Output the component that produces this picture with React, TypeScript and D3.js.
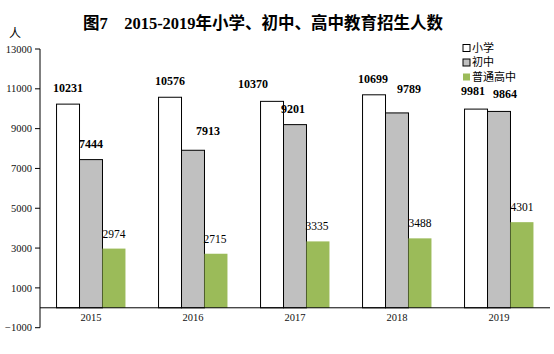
import React from "react";
import * as d3 from "d3";

// 年份 / 系列 / 数值（万人）
const years = ["2015", "2016", "2017", "2018", "2019"];
const seriesNames = ["小学", "初中", "普通高中"];
const primary = [10231, 10576, 10370, 10699, 9981];
const junior = [7444, 7913, 9201, 9789, 9864];
const senior = [2974, 2715, 3335, 3488, 4301];
const yTicks = [-1000, 1000, 3000, 5000, 7000, 9000, 11000, 13000];

// 数据标签的手动微调（像原图那样错开）
const labelDx = [
  [0, 0, -19, -1, -3],
  [0, 15, -2, 12, 6],
  [0, -1, -1, 0, 0],
];
const labelDy = [
  [0, 0, 1, 0, 2],
  [0, 3, 0, 8, 1],
  [0, 0, 0, 0, 0],
];

const W = 554;
const H = 354;
const fills = ["#FFFFFF", "#C0C0C0", "#9BBB59"];
const strokes = ["#000", "#000", "none"];
const serif = "'Liberation Serif', 'Times New Roman', 'Noto Sans CJK SC', serif";
const cjk = "'Noto Sans CJK SC', 'Liberation Serif', sans-serif";

export default function App() {
  const values = [primary, junior, senior];

  const y = d3.scaleLinear().domain([-1000, 13000]).range([327.7, 49]);
  const x0 = d3.scaleBand<string>().domain(years).range([40, 550]).padding(0);
  const x1 = d3
    .scaleBand<string>()
    .domain(seriesNames)
    .range([0, x0.bandwidth()])
    .paddingInner(0)
    .paddingOuter(0.72);

  return (
    <svg
      width={W}
      height={H}
      style={{ position: "absolute", left: 0, top: 0, background: "#fff" }}
    >
      {/* 标题 */}
      <text
        x={263}
        y={29}
        textAnchor="middle"
        fontFamily={serif}
        fontWeight="bold"
        fontSize={16.5}
      >
        图7　2015-2019年小学、初中、高中教育招生人数
      </text>
      <text x={15} y={38} textAnchor="middle" fontFamily={cjk} fontSize={12}>
        人
      </text>

      {/* y 轴 */}
      <line x1={40} x2={40} y1={y(13000)} y2={y(-1000)} stroke="#000" />
      {yTicks.map((t) => (
        <g key={t}>
          <line x1={35} x2={40} y1={y(t)} y2={y(t)} stroke="#000" />
          <text
            x={32}
            y={y(t)}
            dy="0.35em"
            textAnchor="end"
            fontFamily={serif}
            fontSize={10.5}
            fill="#111"
          >
            {t < 0 ? "\u2212" + Math.abs(t) : t}
          </text>
        </g>
      ))}

      {/* 柱子 */}
      {years.map((yr, i) => (
        <g key={yr} transform={`translate(${x0(yr)},0)`}>
          {seriesNames.map((s, k) => {
            const v = values[k][i];
            const bx = x1(s)!;
            return (
              <rect
                key={s}
                x={bx}
                y={y(v)}
                width={x1.bandwidth()}
                height={y(0) - y(v)}
                fill={fills[k]}
                stroke={strokes[k]}
                strokeWidth={1}
              />
            );
          })}
          {seriesNames.map((s, k) => {
            const v = values[k][i];
            const cx = x1(s)! + x1.bandwidth() / 2 + labelDx[k][i];
            return (
              <text
                key={s}
                x={cx}
                y={y(v) - (k === 2 ? 11 : 12) - labelDy[k][i]}
                textAnchor="middle"
                fontFamily={serif}
                fontWeight={k === 2 ? "normal" : "bold"}
                fontSize={k === 2 ? 11.5 : 12}
              >
                {v}
              </text>
            );
          })}
          <text
            x={x0.bandwidth() / 2}
            y={321}
            textAnchor="middle"
            fontFamily={serif}
            fontSize={10.5}
            fill="#111"
          >
            {yr}
          </text>
        </g>
      ))}

      {/* x 轴 */}
      <line x1={40} x2={550} y1={y(0)} y2={y(0)} stroke="#000" />

      {/* 图例 */}
      {seriesNames.map((s, k) => (
        <g key={s} transform={`translate(463,${48 + k * 14.5})`}>
          <rect
            x={0}
            y={-3.5}
            width={7}
            height={7}
            fill={fills[k]}
            stroke={strokes[k]}
          />
          <text x={9} y={0} dy="0.35em" fontFamily={cjk} fontSize={11}>
            {s}
          </text>
        </g>
      ))}
    </svg>
  );
}
